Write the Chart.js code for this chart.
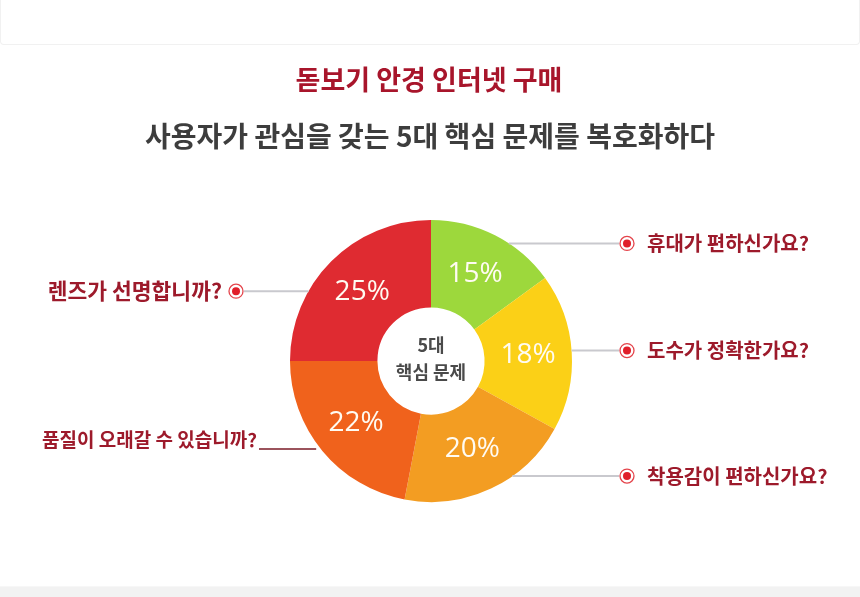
<!DOCTYPE html>
<html lang="ko">
<head>
    <meta charset="UTF-8">
    <title>돋보기 안경 인터넷 구매</title>
    <script src="https://cdn.jsdelivr.net/npm/chart.js"></script>
    <style>
        html, body { margin: 0; padding: 0; background: #fff; }
        body { width: 860px; height: 597px; position: relative; overflow: hidden; font-family: "Noto Sans CJK KR", sans-serif; }
        .card { position: absolute; left: 0; top: 0; width: 858px; height: 44px; border: 1px solid #f1f1f1; border-top: none; border-radius: 0 0 4px 4px; }
        .bottom-band { position: absolute; left: 0; top: 586px; width: 860px; height: 11px; background: #f2f2f2; border-top: 1px solid #f7f7f7; }
        canvas { position: absolute; left: 0; top: 0; }
    </style>
</head>
<body>
<div class="card"></div>
<div class="bottom-band"></div>
<canvas id="issueChart" width="860" height="597"></canvas>

<script>
    // 5대 핵심 문제 (clockwise from 12 o'clock)
    const categories = ['휴대가 편하신가요?', '도수가 정확한가요?', '착용감이 편하신가요?', '품질이 오래갈 수 있습니까?', '렌즈가 선명합니까?'];
    const shares = [15, 18, 20, 22, 25];
    const centerLines = ['5대', '핵심 문제'];
    const titleText = '돋보기 안경 인터넷 구매';
    const subtitleText = '사용자가 관심을 갖는 5대 핵심 문제를 복호화하다';

    // styles
    const sliceColors = ['#9DD83C', '#FBD017', '#F39D22', '#F0621C', '#DF2B31'];
    const anchorAt = [0.62, 0.49, 0.36, 0.57, 0.33];   // where along each slice the leader line leaves
    const underlined = [false, false, false, true, false];
    const labelRed = '#9D1A2B';

    const calloutPlugin = {
        id: 'callouts',
        afterDatasetsDraw(chart) {
            const ctx = chart.ctx;
            const arcs = chart.getDatasetMeta(0).data;
            ctx.save();

            // titles
            ctx.textAlign = 'center';
            ctx.textBaseline = 'middle';
            ctx.fillStyle = '#A8152B';
            ctx.font = 'bold 27px "Noto Sans CJK KR"';
            ctx.fillText(titleText, 429, 80);
            ctx.fillStyle = '#3D3D3D';
            ctx.font = 'bold 28px "Noto Sans CJK KR"';
            ctx.fillText(subtitleText, 430, 136);

            arcs.forEach((arc, i) => {
                const p = arc.getProps(['x', 'y', 'startAngle', 'endAngle', 'innerRadius', 'outerRadius'], true);
                const mid = (p.startAngle + p.endAngle) / 2;
                const rMid = (p.innerRadius + p.outerRadius) / 2;

                // percent inside the ring
                ctx.fillStyle = '#FFFBF2';
                ctx.font = '400 28px "Open Sans"';
                ctx.textAlign = 'center';
                ctx.textBaseline = 'middle';
                ctx.fillText(shares[i] + '%', p.x + Math.cos(mid) * rMid, p.y + Math.sin(mid) * rMid);

                // leader line
                const a = p.startAngle + anchorAt[i] * (p.endAngle - p.startAngle);
                const ax = p.x + Math.cos(a) * p.outerRadius;
                const ay = p.y + Math.sin(a) * p.outerRadius;
                const right = Math.cos(a) > 0;

                ctx.textBaseline = 'middle';

                if (underlined[i]) {
                    ctx.font = 'bold 19px "Noto Sans CJK KR"';
                    ctx.textAlign = 'right';
                    ctx.fillStyle = labelRed;
                    const textEnd = 257;
                    ctx.fillText(categories[i], textEnd, ay);
                    ctx.strokeStyle = '#7A1A26';
                    ctx.lineWidth = 1.5;
                    ctx.beginPath();
                    ctx.moveTo(textEnd + 2, ay + 9);
                    ctx.lineTo(ax + 2, ay + 9);
                    ctx.stroke();
                    return;
                }

                const bx = right ? 627 : 236;
                ctx.strokeStyle = '#C9C9CE';
                ctx.lineWidth = 2;
                ctx.beginPath();
                ctx.moveTo(ax, ay);
                ctx.lineTo(right ? bx - 8 : bx + 8, ay);
                ctx.stroke();

                // bullet
                ctx.beginPath();
                ctx.arc(bx, ay, 7, 0, Math.PI * 2);
                ctx.fillStyle = '#fff';
                ctx.fill();
                ctx.strokeStyle = '#E4444B';
                ctx.lineWidth = 1.3;
                ctx.stroke();
                ctx.beginPath();
                ctx.arc(bx, ay, 4, 0, Math.PI * 2);
                ctx.fillStyle = '#E01F2A';
                ctx.fill();

                ctx.font = right ? 'bold 20px "Noto Sans CJK KR"' : 'bold 21.5px "Noto Sans CJK KR"';
                ctx.fillStyle = labelRed;
                ctx.textAlign = right ? 'left' : 'right';
                ctx.fillText(categories[i], right ? bx + 20 : bx - 14, ay);
            });

            // center text
            const c = arcs[0];
            ctx.fillStyle = '#4A4A4A';
            ctx.font = 'bold 18px "Noto Sans CJK KR"';
            ctx.textAlign = 'center';
            ctx.fillText(centerLines[0], c.x, c.y - 16);
            ctx.fillText(centerLines[1], c.x, c.y + 11);

            ctx.restore();
        }
    };

    new Chart(document.getElementById('issueChart'), {
        type: 'doughnut',
        data: {
            labels: categories,
            datasets: [{
                data: shares,
                backgroundColor: sliceColors,
                borderWidth: 0
            }]
        },
        options: {
            responsive: false,
            animation: false,
            cutout: '38%',
            layout: { padding: { left: 290, right: 288, top: 220, bottom: 95 } },
            plugins: {
                legend: { display: false },
                tooltip: { enabled: false }
            }
        },
        plugins: [calloutPlugin]
    });
</script>
</body>
</html>
